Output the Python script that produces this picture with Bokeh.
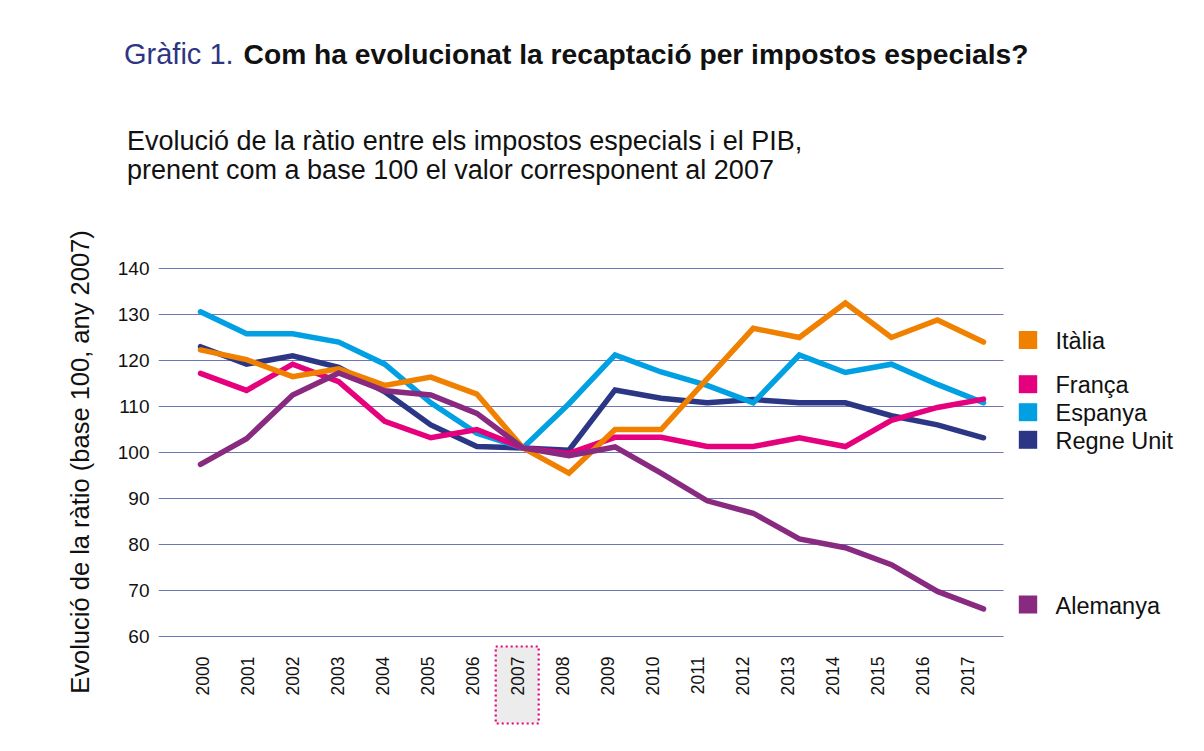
import math
from bokeh.plotting import figure
from bokeh.models import FixedTicker, Range1d, Div
from bokeh.layouts import column
from bokeh.core.properties import value
from bokeh.embed import file_html
from bokeh.resources import INLINE

# ---------------- data ----------------
years = list(range(2000, 2018))
italia = [122.3, 120.2, 116.5, 118.2, 114.6, 116.4, 112.7, 101.0, 95.5, 105.0,
          105.0, 116.0, 127.0, 125.0, 132.5, 125.0, 128.8, 124.0]
franca = [117.2, 113.5, 119.2, 115.4, 106.8, 103.2, 105.0, 101.0, 99.8, 103.3,
          103.3, 101.3, 101.3, 103.2, 101.3, 107.0, 109.8, 111.6]
espanya = [130.6, 125.8, 125.8, 124.0, 119.2, 110.8, 104.2, 101.0, 110.6, 121.2,
           117.5, 114.6, 110.8, 121.2, 117.4, 119.2, 114.8, 110.8]
regne_unit = [123.0, 119.2, 121.0, 118.5, 113.2, 106.0, 101.3, 101.0, 100.5, 113.6,
              111.8, 110.8, 111.5, 110.8, 110.8, 108.0, 106.0, 103.2]
alemanya = [97.4, 103.0, 112.5, 117.3, 113.4, 112.5, 108.5, 101.0, 99.3, 101.2,
            95.5, 89.5, 86.8, 81.2, 79.3, 75.6, 69.8, 66.0]

series_names = ["Itàlia", "França", "Espanya", "Regne Unit", "Alemanya"]
year_labels = [str(y) for y in years]
y_ticks = [60, 70, 80, 90, 100, 110, 120, 130, 140]
highlight_year = 2007

title_prefix = "Gràfic 1."
title_main = "Com ha evolucionat la recaptació per impostos especials?"
subtitle_lines = ["Evolució de la ràtio entre els impostos especials i el PIB,",
                  "prenent com a base 100 el valor corresponent al 2007"]
y_title = "Evolució de la ràtio (base 100, any 2007)"

# ---------------- style ----------------
FONT = "Liberation Sans"
C_IT = "#f08100"
C_FR = "#e5007d"
C_ES = "#00a0e2"
C_UK = "#2b3784"
C_DE = "#872a80"
C_GRID = "#6f76b6"
C_TITLE = "#2e3583"
TXT = "#111111"
colors = [C_IT, C_FR, C_ES, C_UK, C_DE]

# layout geometry (page pixels)
W = 1188
H = 735
HEAD_H = 188
FRAME_L = 158
GRID_R = 1003
PX_X = 46.06
PX_Y = 4.6

def dx(px):
    return 2000 + (px - 200) / PX_X

def dy(py):
    return 140 - (py - 268) / PX_Y

# ---------------- heading (HTML) ----------------
head_html = f"""
<div style="position:relative;width:{W}px;height:{HEAD_H}px;font-family:'{FONT}';color:{TXT};overflow:visible;">
  <div style="position:absolute;left:124px;top:39.5px;font-size:29px;line-height:29px;white-space:nowrap;">
    <span style="color:{C_TITLE};">{title_prefix}</span><span style="font-weight:bold;font-size:28.2px;margin-left:10px;">{title_main}</span>
  </div>
  <div style="position:absolute;left:127px;top:128px;font-size:27px;line-height:27px;white-space:nowrap;">{subtitle_lines[0]}</div>
  <div style="position:absolute;left:127px;top:157px;font-size:27px;line-height:27px;white-space:nowrap;">{subtitle_lines[1]}</div>
</div>
"""
head = Div(text=head_html, width=W, height=HEAD_H, styles={"margin": "0", "padding": "0"})

# ---------------- chart ----------------
p = figure(width=W, height=H - HEAD_H, output_backend="svg", toolbar_location=None,
           x_range=Range1d(dx(FRAME_L), dx(W)), y_range=Range1d(dy(H), dy(HEAD_H)),
           min_border_left=FRAME_L, min_border_right=0, min_border_top=0,
           min_border_bottom=0)
p.outline_line_color = None
p.background_fill_color = "white"
p.border_fill_color = "white"
p.xaxis.visible = False
p.xgrid.visible = False
p.ygrid.visible = False

p.yaxis.ticker = FixedTicker(ticks=y_ticks)
p.yaxis.major_label_text_font = FONT
p.yaxis.major_label_text_font_size = "19px"
p.yaxis.major_label_text_color = TXT
p.yaxis.axis_line_color = None
p.yaxis.major_tick_line_color = None
p.yaxis.minor_tick_line_color = None
p.yaxis.major_label_standoff = 3
p.yaxis.axis_label = y_title
p.yaxis.axis_label_text_font = FONT
p.yaxis.axis_label_text_font_size = "25.5px"
p.yaxis.axis_label_text_font_style = "normal"
p.yaxis.axis_label_text_color = TXT
p.yaxis.axis_label_standoff = 21

# horizontal gridlines over the plotting span only
p.segment(x0=[dx(FRAME_L)] * len(y_ticks), x1=[dx(GRID_R)] * len(y_ticks),
          y0=y_ticks, y1=y_ticks, line_color=C_GRID, line_width=1)

# year labels (rotated) and highlighted 2007 box
label_x = [2000 + (y - 2000) * 45.0 / PX_X + 1.7 / PX_X for y in years]
hx = label_x[years.index(highlight_year)]
p.quad(left=[hx - 21.5 / PX_X], right=[hx + 21.5 / PX_X], top=[dy(646)], bottom=[dy(723)],
       fill_color="#ececec", line_color=C_FR, line_width=2.2, line_dash="2 3")
p.text(x=label_x, y=[dy(656)] * len(years), text=year_labels, angle=math.pi / 2,
       text_font=value(FONT), text_font_size=value("17.5px"), text_color=TXT,
       text_align="right", text_baseline="middle")

# series lines (draw order: UK, ES, FR, IT, DE)
order = [(regne_unit, C_UK), (espanya, C_ES), (franca, C_FR), (italia, C_IT), (alemanya, C_DE)]
for vals, col in order:
    p.line(years, vals, line_color=col, line_width=5.5, line_join="miter", line_cap="round")

# legend (manual, next to the line ends)
legend_py = [339.5, 383.7, 411.7, 439.3, 604.0]
p.rect(x=[dx(1027.5)] * 5, y=[dy(v) for v in legend_py], width=18.4, height=18,
       width_units="screen", height_units="screen", fill_color=colors, line_color=None)
p.text(x=[dx(1055)] * 5, y=[dy(v + 1) for v in legend_py], text=series_names,
       text_font=value(FONT), text_font_size=value("23.5px"), text_color=TXT,
       text_baseline="middle", text_align="left")

layout = column(head, p)
open("out.html", "w").write(file_html(layout, INLINE))
